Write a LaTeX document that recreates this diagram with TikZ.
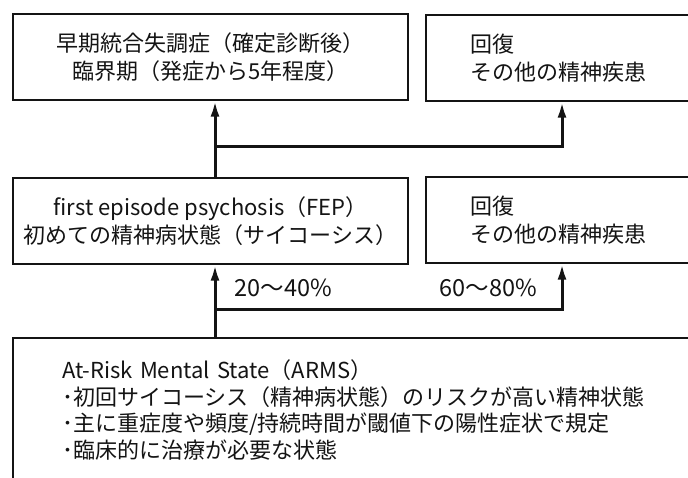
\documentclass[tikz,border=0pt]{standalone}
\usepackage{fontspec}
\setmainfont{Noto Sans CJK JP}
\usetikzlibrary{arrows.meta}
\definecolor{ink}{HTML}{141414}
\begin{document}
\begin{tikzpicture}[x=1pt,y=-1pt,
  box/.style={draw=ink, line width=1.3pt, inner ysep=0pt, text=ink,
    font=\fontsize{22}{28}\selectfont},
  lbox/.style={box, align=left, inner xsep=44pt, text width=186pt, minimum height=86pt},
  cbox/.style={box, align=center, minimum width=395pt, minimum height=86pt},
  conn/.style={draw=ink, line width=3pt},
  arr/.style={conn, -{Latex[length=16pt,width=9pt]}},
  lbl/.style={font=\fontsize{23.5}{28}\selectfont, text=ink, inner sep=0pt}]
\useasboundingbox (0,0) rectangle (688,477);
\fill[white] (0,0) rectangle (688,477);
% boxes
\node[cbox] (early) at (210.5,57) {早期統合失調症（確定診断後）\\臨界期（発症から5年程度）};
\node[lbox] (rec1) at (563,58) {回復\\その他の精神疾患};
\node[cbox] (fep) at (210.5,221) {first episode psychosis（FEP）\\初めての精神病状態（サイコーシス）};
\node[lbox] (rec2) at (563,220) {回復\\その他の精神疾患};
\node[box, align=left, inner xsep=49pt, text width=609pt, minimum height=144pt,
  font=\fontsize{22}{26.5}\selectfont] (arms) at (366.5,410)
  {At-Risk Mental State（ARMS）\\･初回サイコーシス（精神病状態）のリスクが高い精神状態\\･主に重症度や頻度/持続時間が閾値下の陽性症状で規定\\･臨床的に治療が必要な状態};
% junction coordinates
\coordinate (ax) at (215,0);
\coordinate (bx) at (562,0);
\coordinate (j1) at (215,309);
\coordinate (j2) at (215,146);
% connectors
\draw[arr] (arms.north -| ax) -- (fep.south -| ax);
\draw[arr] (j1) -- (j1 -| bx) -- (rec2.south -| bx);
\draw[arr] (fep.north -| ax) -- (early.south -| ax);
\draw[arr] (j2) -- (j2 -| bx) -- (rec1.south -| bx);
% labels
\node[lbl] (p1) at (283.5,288) {20〜40\%};
\node[lbl] (p2) at (488.5,288) {60〜80\%};
\end{tikzpicture}
\end{document}
